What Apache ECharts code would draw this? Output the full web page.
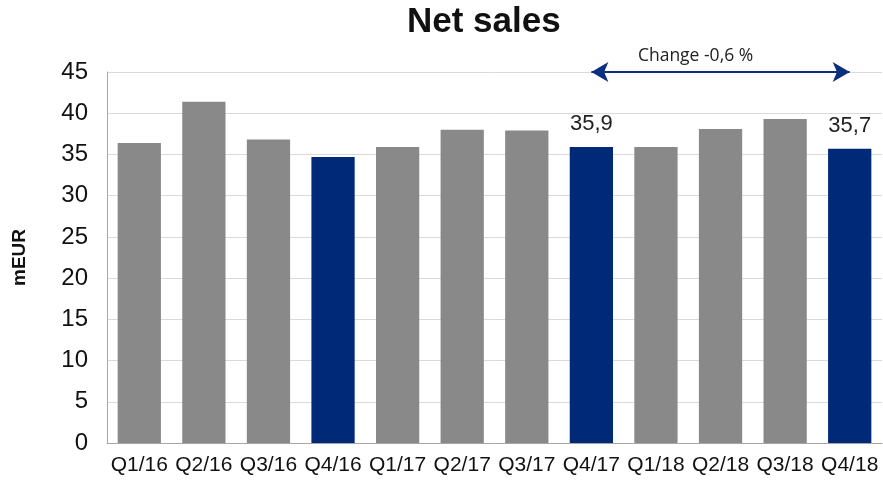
<!DOCTYPE html>
<html>
<head>
<meta charset="utf-8">
<script src="https://cdn.jsdelivr.net/npm/echarts@6/dist/echarts.min.js"></script>
<style>
  html, body { margin: 0; padding: 0; background: #fff; }
  #chart_container { width: 883px; height: 482px; }
</style>
</head>
<body>
<div id="chart_container"></div>
<script>
"use strict";

// data
const quarters = ['Q1/16', 'Q2/16', 'Q3/16', 'Q4/16', 'Q1/17', 'Q2/17', 'Q3/17', 'Q4/17', 'Q1/18', 'Q2/18', 'Q3/18', 'Q4/18'];
const netSales = [36.4, 41.4, 36.8, 34.7, 35.9, 38.0, 37.9, 35.9, 35.9, 38.1, 39.3, 35.7];
const highlighted = ['Q4/16', 'Q4/17', 'Q4/18'];
const labelled = ['Q4/17', 'Q4/18'];
const changeFrom = 'Q4/17';
const changeTo = 'Q4/18';
const changeText = 'Change -0,6 %';
const yTicks = { min: 0, max: 45, step: 5 };

const GREY = '#898989';
const NAVY = '#002a78';

let myChart;

let buildData = () => quarters.map((q, i) => {
    let item = {
        value: netSales[i],
        itemStyle: { color: highlighted.includes(q) ? NAVY : GREY }
    };
    if (labelled.includes(q)) {
        item.label = {
            show: true,
            position: 'top',
            distance: 12,
            formatter: p => String(p.value).replace('.', ','),
            fontSize: 22,
            color: '#222',
            fontFamily: 'Liberation Sans'
        };
    }
    return item;
});

let pageLoaded = () => {
    let chartDom = document.getElementById('chart_container');
    myChart = echarts.init(chartDom, null, { renderer: 'canvas' });

    let opt = {
        animation: false,
        textStyle: { fontFamily: 'Liberation Sans' },
        title: {
            text: 'Net sales',
            left: 402,
            top: 0,
            textStyle: { fontSize: 35, fontWeight: 'bold', color: '#111', fontFamily: 'Liberation Sans' }
        },
        grid: { left: 107, right: 1, top: 72, bottom: 39 },
        xAxis: {
            type: 'category',
            data: quarters,
            axisLine: { lineStyle: { color: '#a6a6a6', width: 1 } },
            axisTick: { show: false },
            axisLabel: { fontSize: 21, color: '#111', margin: 12, interval: 0 }
        },
        yAxis: {
            type: 'value',
            min: yTicks.min,
            max: yTicks.max,
            interval: yTicks.step,
            name: 'mEUR',
            nameLocation: 'middle',
            nameGap: 78,
            nameTextStyle: { fontSize: 19, fontWeight: 'bold', color: '#111' },
            axisLine: { show: true, lineStyle: { color: '#a6a6a6' } },
            axisTick: { show: false },
            axisLabel: { fontSize: 24, color: '#111', margin: 19 },
            splitLine: { lineStyle: { color: '#dadada' } }
        },
        series: [{
            type: 'bar',
            data: buildData(),
            barWidth: '67%',
            clip: false,
            markLine: {
                silent: true,
                symbol: ['arrow', 'arrow'],
                symbolSize: [15, 17],
                lineStyle: { color: '#0a2f7f', width: 2, type: 'solid' },
                label: {
                    show: true,
                    position: 'middle',
                    formatter: changeText,
                    fontSize: 17.5,
                    color: '#222',
                    fontFamily: 'Open Sans',
                    offset: [-25, -2]
                },
                data: [[
                    { coord: [changeFrom, yTicks.max] },
                    { coord: [changeTo, yTicks.max] }
                ]]
            }
        }]
    };

    myChart.setOption(opt);
};

window.addEventListener('load', pageLoaded, false);
</script>
</body>
</html>
